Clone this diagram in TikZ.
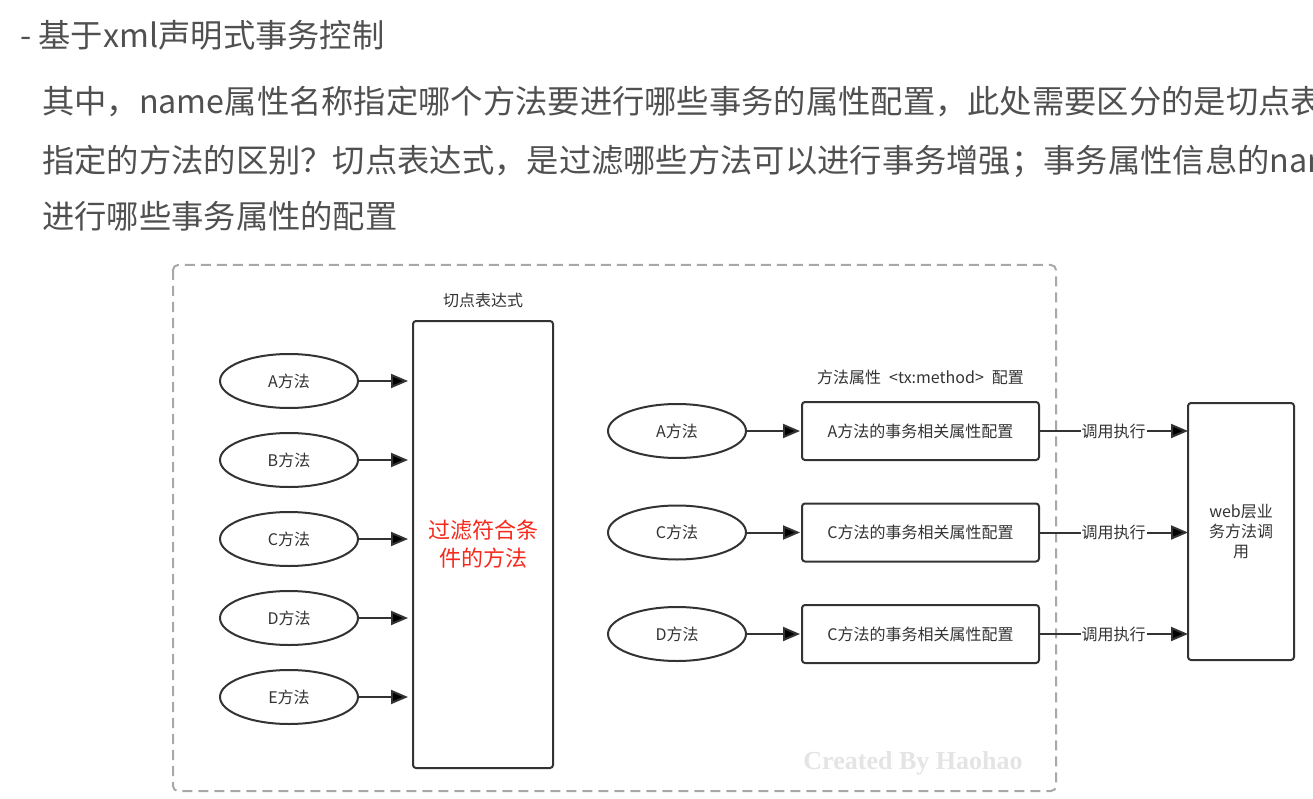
\documentclass[tikz,border=0pt]{standalone}
\usepackage{fontspec}
\newfontfamily\cjk{Noto Sans CJK SC}
\newfontfamily\serifmark{Liberation Serif}
\usetikzlibrary{positioning,shapes.geometric,arrows.meta}

\definecolor{inkc}{HTML}{333333}
\definecolor{textc}{HTML}{505050}
\definecolor{framec}{HTML}{A8A8A8}
\definecolor{hotc}{HTML}{F5291C}
\definecolor{markc}{HTML}{E4E4E4}

\begin{document}
\begin{tikzpicture}[x=1pt, y=-1pt, node distance=25pt and 56pt,
  >={Triangle[length=17pt,width=14pt]},
  meth/.style={ellipse, draw=inkc, line width=2pt, minimum width=138pt, minimum height=54pt,
    inner sep=0pt, outer sep=0pt, text=inkc, font=\cjk\fontsize{16}{20}\selectfont},
  cfg/.style={rectangle, rounded corners=3pt, draw=inkc, line width=2pt, minimum width=237pt,
    minimum height=58pt, outer sep=0pt, text=inkc, font=\cjk\fontsize{16}{20}\selectfont},
  tall/.style={rectangle, rounded corners=3pt, draw=inkc, line width=2pt, outer sep=0pt, align=center},
  caption/.style={inner sep=1pt, text=inkc, font=\cjk\fontsize{16}{20}\selectfont},
  call/.style={fill=white, inner sep=1pt, text=inkc, font=\cjk\fontsize{16}{20}\selectfont},
  para/.style={anchor=west, inner sep=0pt, text=textc, font=\cjk\fontsize{32.3}{40}\selectfont},
  link/.style={->, draw=inkc, line width=2pt}]

  \useasboundingbox (0,0) rectangle (1313,799);

  % text above the chart
  \node[para] (title) at (20,35) {- 基于xml声明式事务控制};
  \node[para] (l1) at (42,102) {其中，name属性名称指定哪个方法要进行哪些事务的属性配置，此处需要区分的是切点表};
  \node[para] (l2) at (42,161) {指定的方法的区别？切点表达式，是过滤哪些方法可以进行事务增强；事务属性信息的nam};
  \node[para] (l3) at (42,216) {进行哪些事务属性的配置};

  % frame
  \draw[framec, line width=2pt, dash pattern=on 10pt off 6pt, rounded corners=5pt]
    (173,265) rectangle (1056,791);

  % pointcut side
  \node[meth] (ma) at (289,381) {A方法};
  \node[meth, below=of ma] (mb) {B方法};
  \node[meth, below=of mb] (mc) {C方法};
  \node[meth, below=of mc] (md) {D方法};
  \node[meth, below=of md] (me) {E方法};
  \node[tall, minimum width=140pt, minimum height=447pt, text=hotc,
    font=\cjk\fontsize{22}{28}\selectfont] (filt) at (483,544.5) {过滤符合条\\件的方法};
  \node[caption, above=12pt of filt] (pcut) {切点表达式};
  \path[link, shorten >=5pt]
    (ma) edge (ma -| filt.west)
    (mb) edge (mb -| filt.west)
    (mc) edge (mc -| filt.west)
    (md) edge (md -| filt.west)
    (me) edge (me -| filt.west);

  % tx:method side
  \node[meth] (ra) at (677,431) {A方法};
  \node[meth, below=47.5pt of ra] (rc) {C方法};
  \node[meth, below=47.5pt of rc] (rd) {D方法};
  \node[cfg, right=of ra] (ca) {A方法的事务相关属性配置};
  \node[cfg, right=of rc] (cc) {C方法的事务相关属性配置};
  \node[cfg, right=of rd] (cd) {C方法的事务相关属性配置};
  \node[caption, above=16pt of ca] (pmeth) {方法属性\hspace{8pt}<tx:method>\hspace{8pt}配置};
  \node[tall, minimum width=106pt, minimum height=257pt, text=inkc,
    font=\cjk\fontsize{16}{20}\selectfont] (web) at (1241,531.5) {web层业\\务方法调\\用};
  \path[link, shorten >=2pt]
    (ra) edge (ca)
    (rc) edge (cc)
    (rd) edge (cd);
  \path[link]
    (ca) edge node[call] {调用执行} (ca -| web.west)
    (cc) edge node[call] {调用执行} (cc -| web.west)
    (cd) edge node[call] {调用执行} (cd -| web.west);

  \node[text=markc, font=\serifmark\bfseries\fontsize{26}{30}\selectfont] (mark) at (913,763) {Created By Haohao};
\end{tikzpicture}
\end{document}
